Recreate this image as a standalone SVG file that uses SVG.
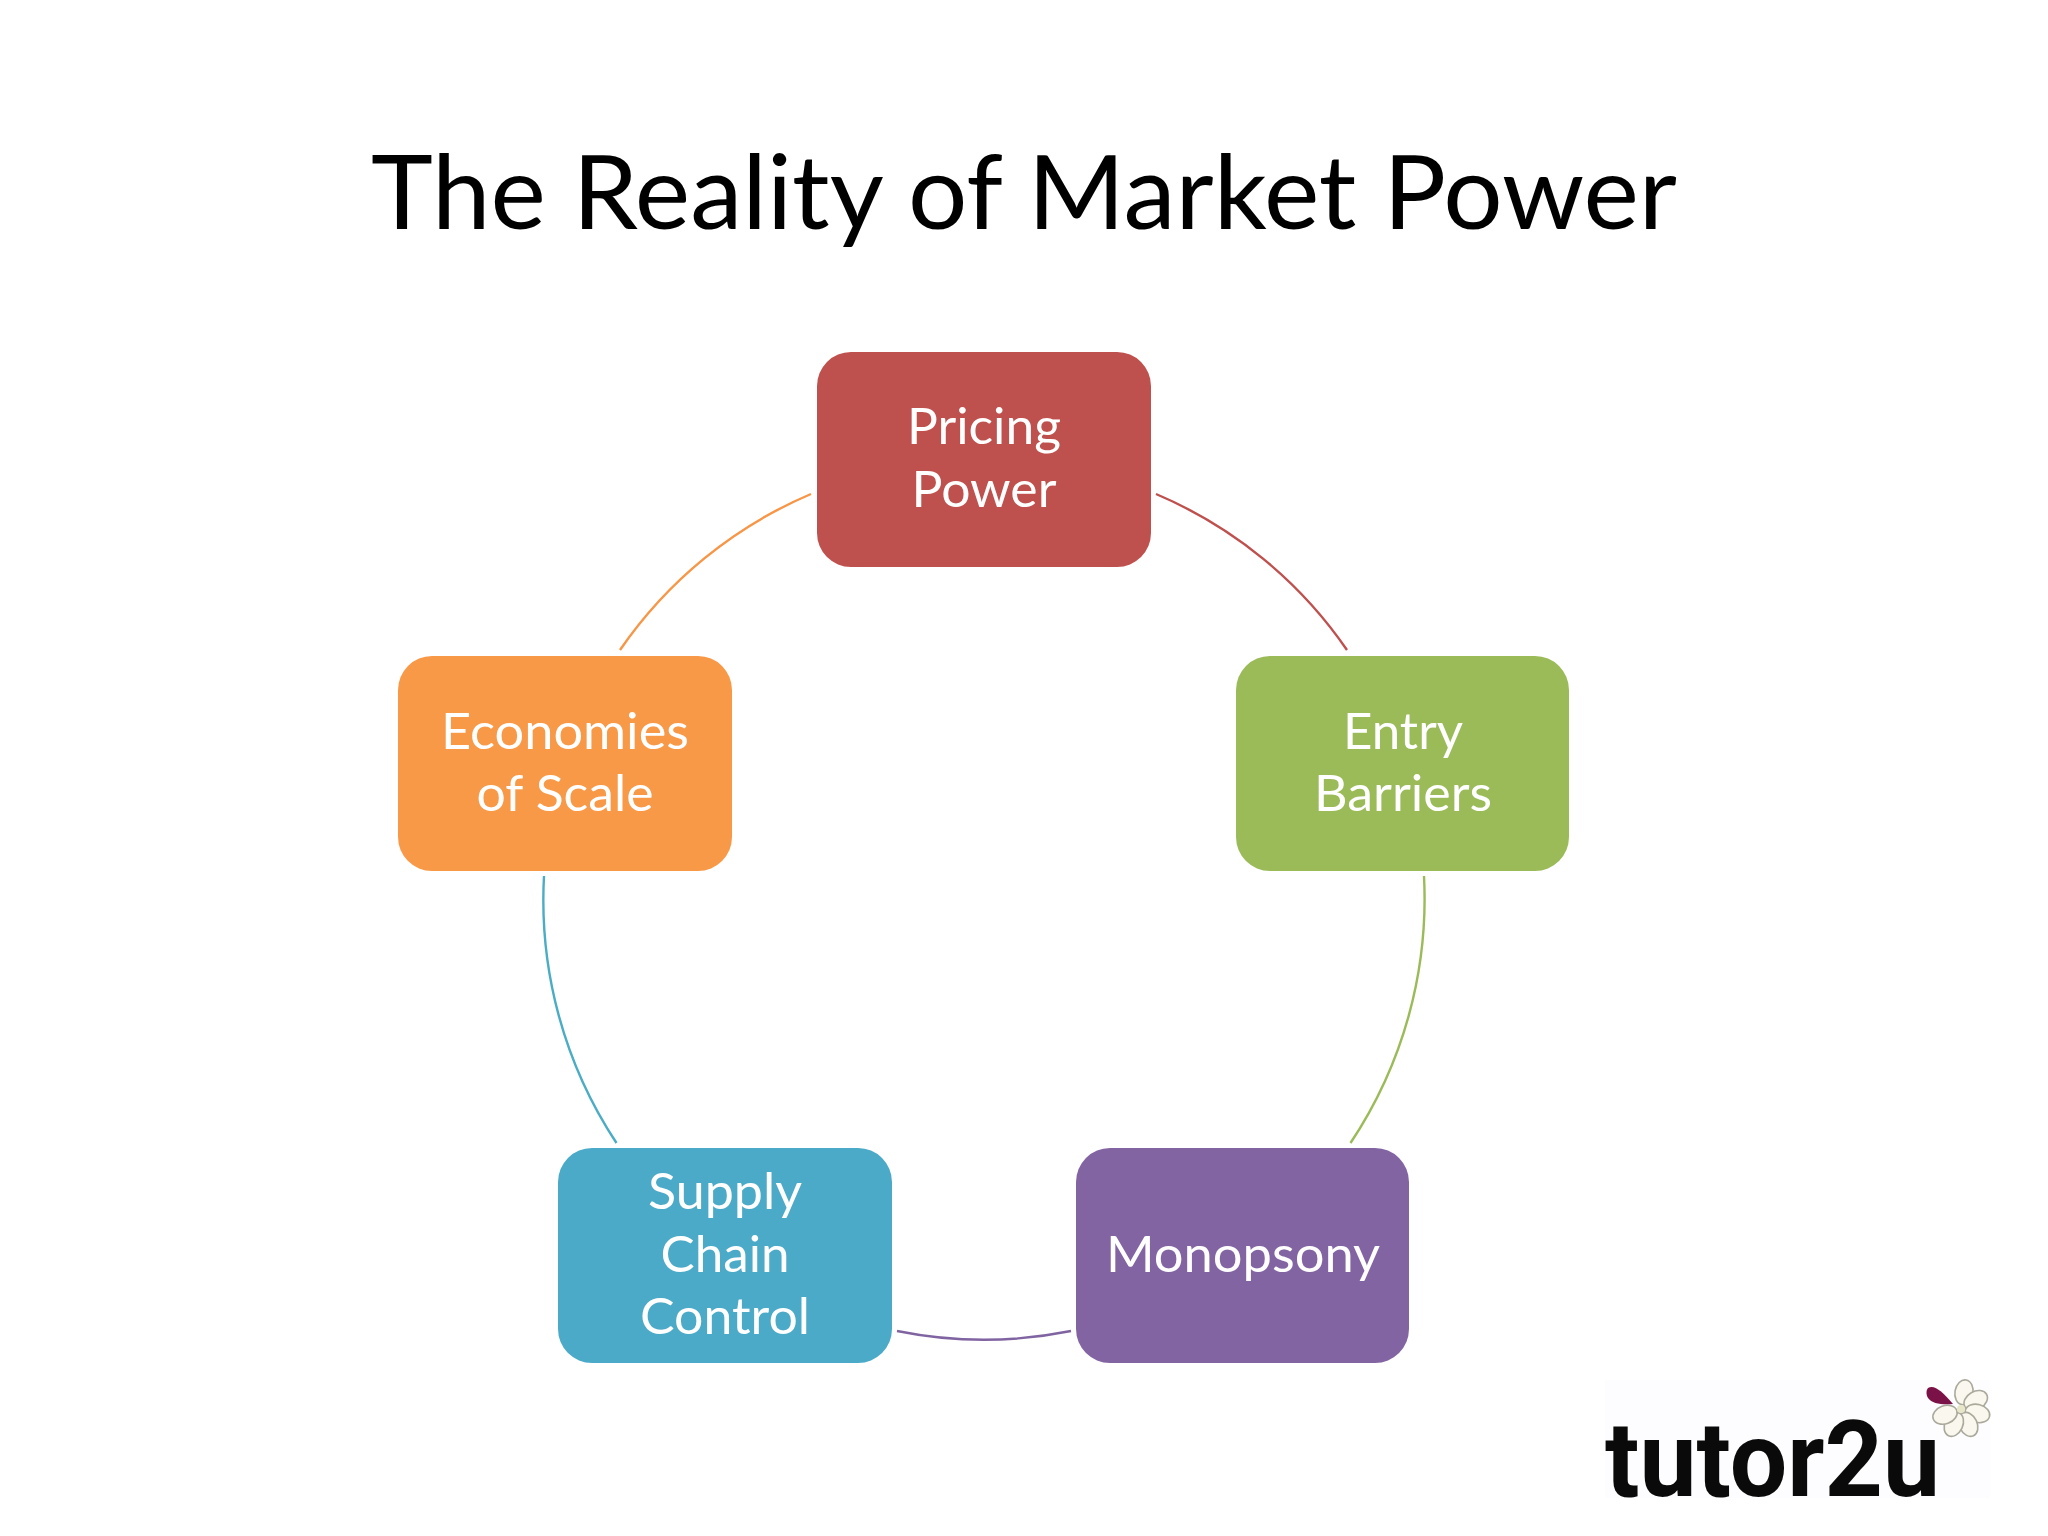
<svg xmlns="http://www.w3.org/2000/svg" width="2048" height="1536" viewBox="0 0 2048 1536">
<style>
.box{stroke:none}
.lbl{font-family:Lato,Carlito,"Open Sans",sans-serif;font-size:50px;fill:#fff;text-anchor:middle}
.arc{fill:none;stroke-width:2.4}
.title{font-family:Lato,Carlito,"Open Sans",sans-serif;font-size:103px;fill:#000}
.petal{fill:#faf8ee;stroke:#aaa99c;stroke-width:1.6}
</style>
<rect width="2048" height="1536" fill="#fff"/>
<g id="title"><text class="title" x="371" y="229" textLength="1306" lengthAdjust="spacingAndGlyphs">The Reality of Market Power</text></g>
<g id="connectors">
<path class="arc" stroke="#BE504E" d="M1156 494A440 440 0 0 1 1347 650"/>
<path class="arc" stroke="#9BBB59" d="M1424 876A440 440 0 0 1 1350.500 1143"/>
<path class="arc" stroke="#8064A2" d="M1071 1331A440 440 0 0 1 897 1331"/>
<path class="arc" stroke="#4BACC6" d="M616.500 1143A440 440 0 0 1 544 876"/>
<path class="arc" stroke="#F79646" d="M620 650A440 440 0 0 1 811 494"/>
</g>
<g id="node-pricing"><rect class="box" x="817" y="352" width="334" height="215" rx="34" fill="#BE504E"/>
<text class="lbl" x="984" y="444" textLength="154" lengthAdjust="spacingAndGlyphs">Pricing</text><text class="lbl" x="984" y="507" textLength="145" lengthAdjust="spacingAndGlyphs">Power</text></g>
<g id="node-entry"><rect class="box" x="1236" y="656" width="333" height="215" rx="34" fill="#9BBB59"/>
<text class="lbl" x="1403" y="749" textLength="120" lengthAdjust="spacingAndGlyphs">Entry</text><text class="lbl" x="1403" y="811" textLength="178" lengthAdjust="spacingAndGlyphs">Barriers</text></g>
<g id="node-monopsony"><rect class="box" x="1076" y="1148" width="333" height="215" rx="34" fill="#8364A3"/>
<text class="lbl" x="1243" y="1272" textLength="274" lengthAdjust="spacingAndGlyphs">Monopsony</text></g>
<g id="node-supply"><rect class="box" x="558" y="1148" width="334" height="215" rx="34" fill="#4BAAC8"/>
<text class="lbl" x="725" y="1209" textLength="154" lengthAdjust="spacingAndGlyphs">Supply</text><text class="lbl" x="725" y="1272" textLength="129" lengthAdjust="spacingAndGlyphs">Chain</text><text class="lbl" x="725" y="1334" textLength="170" lengthAdjust="spacingAndGlyphs">Control</text></g>
<g id="node-economies"><rect class="box" x="398" y="656" width="334" height="215" rx="34" fill="#F89947"/>
<text class="lbl" x="565" y="749" textLength="248" lengthAdjust="spacingAndGlyphs">Economies</text><text class="lbl" x="565" y="811" textLength="177" lengthAdjust="spacingAndGlyphs">of Scale</text></g>
<g id="logo">
<rect x="1605" y="1380" width="385" height="118" fill="#fdfcfe"/>
<text x="1605" y="1496" font-family="Roboto,'Liberation Sans',sans-serif" font-weight="700" font-size="106" fill="#0a0a0a" textLength="335" lengthAdjust="spacingAndGlyphs">tutor2u</text>
<g transform="translate(1961 1409)">
<ellipse class="petal" cx="0" cy="-17" rx="9" ry="12.500" transform="rotate(10)"/>
<ellipse class="petal" cx="0" cy="-17" rx="9" ry="12.500" transform="rotate(60)"/>
<ellipse class="petal" cx="0" cy="-17" rx="9" ry="12.500" transform="rotate(105)"/>
<ellipse class="petal" cx="0" cy="-17" rx="9" ry="12.500" transform="rotate(155)"/>
<ellipse class="petal" cx="0" cy="-17" rx="9" ry="12.500" transform="rotate(205)"/>
<ellipse class="petal" cx="0" cy="-17" rx="9" ry="12.500" transform="rotate(250)"/>
<path d="M-33 -21C-27 -25 -19 -18 -8 -5C-18 -4 -29 -5 -33 -11C-35 -14 -35 -19 -33 -21Z" fill="#7a1248"/>
<circle r="4" fill="#e8e6c8"/>
</g>
</g>
</svg>
